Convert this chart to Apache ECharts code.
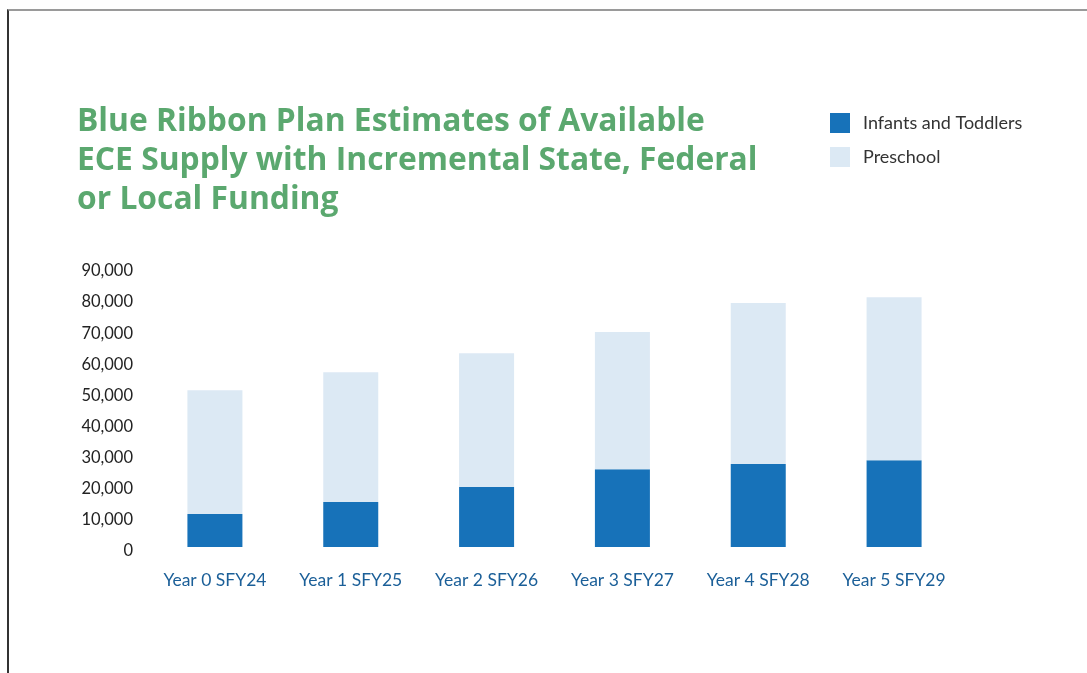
<!DOCTYPE html>
<html>
<head>
<meta charset="utf-8">
<script src="https://cdn.jsdelivr.net/npm/echarts@6/dist/echarts.min.js"></script>
<style>
  html, body { margin: 0; padding: 0; background: #fff; }
  #frame {
    position: absolute; left: 7px; top: 9px; right: 0; bottom: 0;
    border-top: 2px solid #9a9a9a; border-left: 2px solid #333;
  }
  #chart { position: absolute; left: 0; top: 0; width: 1087px; height: 673px; }
</style>
</head>
<body>
<div id="frame"></div>
<div id="chart"></div>
<script>
// Fiscal years of the plan
const categories = ['Year 0 SFY24', 'Year 1 SFY25', 'Year 2 SFY26', 'Year 3 SFY27', 'Year 4 SFY28', 'Year 5 SFY29'];
// Available slots by age group (stacked)
const infantsToddlers = [10600, 14500, 19300, 25000, 26700, 27900];
const preschool = [39800, 41700, 43000, 44100, 51700, 52400];
// Value axis ticks
const yMax = 90000;
const yStep = 10000;

const titleText = 'Blue Ribbon Plan Estimates of Available\nECE Supply with Incremental State, Federal\nor Local Funding';

const chart = echarts.init(document.getElementById('chart'), null, { renderer: 'canvas' });
chart.setOption({
  backgroundColor: 'transparent',
  animation: false,
  title: {
    text: titleText,
    left: 72,
    top: 97,
    textStyle: {
      fontFamily: 'Open Sans',
      fontWeight: 'bold',
      fontSize: 31.8,
      lineHeight: 39,
      color: '#5ba86f'
    }
  },
  legend: {
    orient: 'vertical',
    left: 825,
    top: 108,
    itemWidth: 20,
    itemHeight: 20,
    itemGap: 14,
    icon: 'rect',
    textStyle: { fontFamily: 'Lato', fontSize: 18, color: '#333', padding: [0, 0, 0, 8] },
    data: ['Infants and Toddlers', 'Preschool']
  },
  grid: { left: 147, right: 125, top: 267, bottom: 126, containLabel: false },
  xAxis: {
    type: 'category',
    data: categories,
    axisLine: { show: false },
    axisTick: { show: false },
    axisLabel: {
      margin: 24,
      fontFamily: 'Lato',
      fontSize: 17.5,
      color: '#1b5f98'
    }
  },
  yAxis: {
    type: 'value',
    min: 0,
    max: yMax,
    interval: yStep,
    splitLine: { show: false },
    axisLine: { show: false },
    axisTick: { show: false },
    axisLabel: {
      margin: 14,
      formatter: v => '{v|' + v.toLocaleString('en-US') + '}',
      rich: {
        v: {
          fontFamily: 'Lato',
          fontSize: 16.5,
          color: '#222',
          padding: [8, 0, 0, 0]
        }
      }
    }
  },
  series: [
    {
      name: 'Infants and Toddlers',
      type: 'bar',
      stack: 'supply',
      barWidth: 55,
      itemStyle: { color: '#1772b9' },
      data: infantsToddlers
    },
    {
      name: 'Preschool',
      type: 'bar',
      stack: 'supply',
      barWidth: 55,
      itemStyle: { color: '#dce9f4' },
      data: preschool
    }
  ]
});
</script>
</body>
</html>
